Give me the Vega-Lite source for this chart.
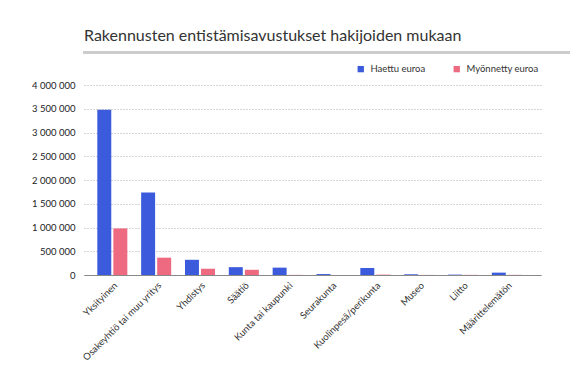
{
  "$schema": "https://vega.github.io/schema/vega-lite/v6.json",
  "padding": {"left": 31, "top": 26, "right": 10, "bottom": 5},
  "background": "white",
  "config": {
    "font": "Lato",
    "view": {"stroke": null},
    "concat": {"spacing": 21}
  },
  "columns": 1,
  "align": "none",
  "bounds": "full",
  "concat": [
    {
      "title": {"text": "Rakennusten entistämisavustukset hakijoiden mukaan", "anchor": "start", "fontSize": 16, "fontWeight": "normal", "color": "#333333", "offset": 3},
      "width": 507,
      "height": 1,
      "view": {"stroke": "#cccccc", "strokeWidth": 2},
      "data": {"values": [{}]},
      "mark": "text",
      "encoding": {"text": {"value": ""}}
    },
    {
      "width": 457,
      "height": 190,
      "data": {
        "values": [
          {"hakija": "Yksityinen", "sarja": "Haettu euroa", "euroa": 3480000},
          {"hakija": "Yksityinen", "sarja": "Myönnetty euroa", "euroa": 980000},
          {"hakija": "Osakeyhtiö tai muu yritys", "sarja": "Haettu euroa", "euroa": 1735000},
          {"hakija": "Osakeyhtiö tai muu yritys", "sarja": "Myönnetty euroa", "euroa": 365000},
          {"hakija": "Yhdistys", "sarja": "Haettu euroa", "euroa": 320000},
          {"hakija": "Yhdistys", "sarja": "Myönnetty euroa", "euroa": 130000},
          {"hakija": "Säätiö", "sarja": "Haettu euroa", "euroa": 165000},
          {"hakija": "Säätiö", "sarja": "Myönnetty euroa", "euroa": 110000},
          {"hakija": "Kunta tai kaupunki", "sarja": "Haettu euroa", "euroa": 155000},
          {"hakija": "Kunta tai kaupunki", "sarja": "Myönnetty euroa", "euroa": 3000},
          {"hakija": "Seurakunta", "sarja": "Haettu euroa", "euroa": 20000},
          {"hakija": "Seurakunta", "sarja": "Myönnetty euroa", "euroa": 2000},
          {"hakija": "Kuolinpesä/perikunta", "sarja": "Haettu euroa", "euroa": 148000},
          {"hakija": "Kuolinpesä/perikunta", "sarja": "Myönnetty euroa", "euroa": 8000},
          {"hakija": "Museo", "sarja": "Haettu euroa", "euroa": 15000},
          {"hakija": "Museo", "sarja": "Myönnetty euroa", "euroa": 2000},
          {"hakija": "Liitto", "sarja": "Haettu euroa", "euroa": 8000},
          {"hakija": "Liitto", "sarja": "Myönnetty euroa", "euroa": 3000},
          {"hakija": "Määrittelemätön", "sarja": "Haettu euroa", "euroa": 50000},
          {"hakija": "Määrittelemätön", "sarja": "Myönnetty euroa", "euroa": 3000}
        ]
      },
      "mark": {"type": "bar"},
      "encoding": {
        "x": {
          "field": "hakija", "type": "nominal", "sort": null,
          "scale": {"paddingInner": 0.315, "paddingOuter": 0.37, "align": 0.41},
          "axis": {"title": null, "labelAngle": -45, "labelAlign": "right", "labelBaseline": "top", "labelFontSize": 9.5, "labelColor": "#333333", "ticks": false, "labelPadding": 5, "domainColor": "#888888", "domainWidth": 1.2, "grid": false}
        },
        "xOffset": {"field": "sarja", "type": "nominal", "sort": ["Haettu euroa", "Myönnetty euroa"], "scale": {"paddingInner": 0.13}},
        "y": {
          "field": "euroa", "type": "quantitative",
          "scale": {"domain": [0, 4000000]},
          "axis": {"title": null, "values": [0, 500000, 1000000, 1500000, 2000000, 2500000, 3000000, 3500000, 4000000], "labelOverlap": false, "labelExpr": "replace(format(datum.value, ','), regexp(',', 'g'), ' ')", "labelFontSize": 9.5, "labelColor": "#222222", "labelPadding": 9, "ticks": false, "domain": false, "gridColor": "#aaaaaa", "gridDash": [1, 2], "gridWidth": 1}
        },
        "color": {
          "field": "sarja", "type": "nominal",
          "scale": {"domain": ["Haettu euroa", "Myönnetty euroa"], "range": ["#3c5bdc", "#ee6a80"]},
          "legend": {"title": null, "orient": "none", "direction": "horizontal", "legendX": 272, "legendY": 12, "symbolType": "square", "symbolSize": 40, "symbolOpacity": 1, "labelFontSize": 9.5, "labelColor": "#333333", "columnPadding": 26, "labelOffset": 5, "padding": 0}
        }
      }
    }
  ]
}
